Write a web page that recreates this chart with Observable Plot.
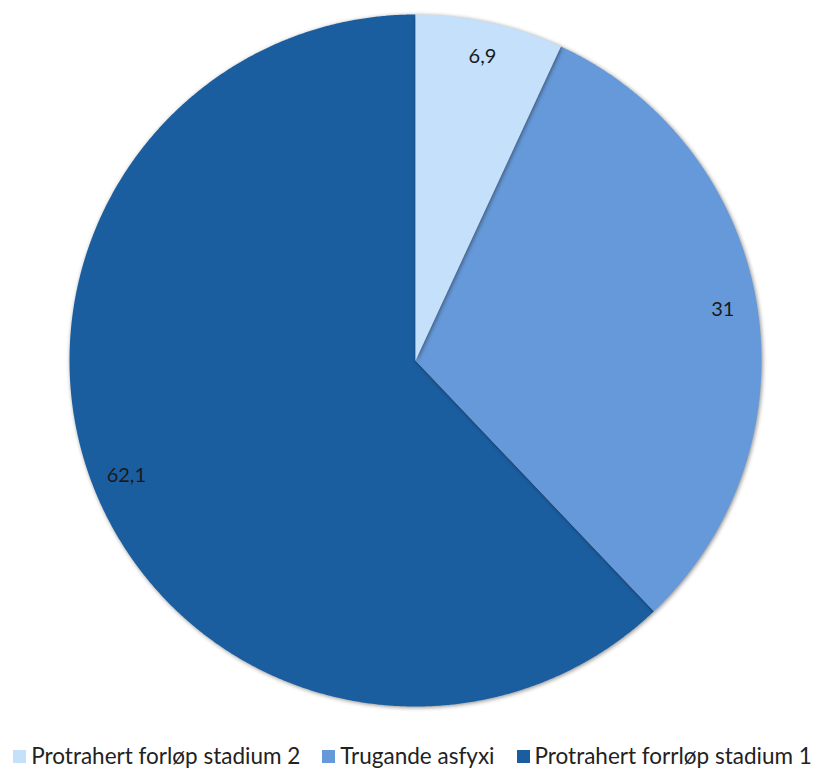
<!DOCTYPE html>
<html>
<head>
<meta charset="utf-8">
<script src="https://cdn.jsdelivr.net/npm/d3@7"></script>
<script src="https://cdn.jsdelivr.net/npm/@observablehq/plot@0.6"></script>
<style>
  html, body { margin: 0; padding: 0; background: #fff; }
  body { width: 825px; font-family: Lato, "Open Sans", sans-serif; }
  #chart svg { display: block; }
  #chart g[aria-label="line"] path { filter: drop-shadow(1.5px 1.5px 2px rgba(0,0,0,0.45)); }
  .legend { display: flex; justify-content: center; gap: 22px; margin-top: 19px; font-size: 22.5px; color: #222; line-height: 24px; }
  .legend .item { display: flex; align-items: center; gap: 5px; white-space: nowrap; }
  .legend .sw { width: 13px; height: 13px; display: inline-block; }
</style>
</head>
<body>
<div id="chart"></div>
<div class="legend" id="legend"></div>
<script>
const categories = ["Protrahert forløp stadium 2", "Trugande asfyxi", "Protrahert forrløp stadium 1"];
const values = [6.9, 31, 62.1];
const labels = ["6,9", "31", "62,1"];
const colors = ["#C5E0FA", "#6699D9", "#1B5EA0"];

const arcs = d3.pie().sort(null).value(d => d)(values);

// Build polygon outlines of each slice (unit circle; angle 0 at top, clockwise)
const slicePts = [];
const drawOrder = [2, 1, 0];
for (const i of drawOrder) {
  const a0 = arcs[i].startAngle, a1 = arcs[i].endAngle;
  const n = Math.max(2, Math.ceil((a1 - a0) / 0.005));
  slicePts.push({cat: categories[i], x: 0, y: 0});
  for (let k = 0; k <= n; k++) {
    const a = a0 + (a1 - a0) * k / n;
    slicePts.push({cat: categories[i], x: Math.sin(a), y: Math.cos(a)});
  }
  slicePts.push({cat: categories[i], x: 0, y: 0});
}
const labelPts = arcs.map((a, i) => {
  const m = (a.startAngle + a.endAngle) / 2;
  return {label: labels[i], x: 0.9 * Math.sin(m), y: 0.9 * Math.cos(m)};
});

const plot = Plot.plot({
  width: 825,
  height: 725,
  marginLeft: 69,
  marginRight: 64,
  marginTop: 14,
  marginBottom: 19,
  x: {domain: [-1, 1], axis: null},
  y: {domain: [-1, 1], axis: null},
  color: {domain: categories, range: colors},
  style: {fontFamily: "Lato, 'Open Sans', sans-serif", background: "#fff"},
  marks: [
    Plot.line(slicePts, {x: "x", y: "y", z: "cat", fill: "cat", stroke: "none", curve: "linear"}),
    Plot.text(labelPts, {x: "x", y: "y", text: "label", fontSize: 20, fill: "#1a1a1a"})
  ]
});
document.getElementById("chart").appendChild(plot);

const legend = document.getElementById("legend");
categories.forEach((c, i) => {
  const it = document.createElement("div");
  it.className = "item";
  const sw = document.createElement("span");
  sw.className = "sw";
  sw.style.background = colors[i];
  const t = document.createElement("span");
  t.textContent = c;
  it.appendChild(sw);
  it.appendChild(t);
  legend.appendChild(it);
});
</script>
</body>
</html>
